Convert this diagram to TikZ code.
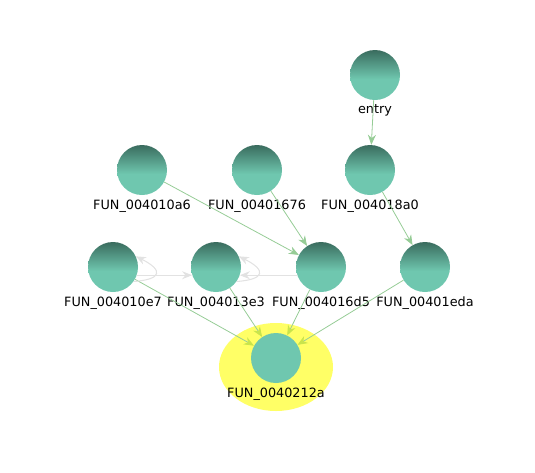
\documentclass[tikz,border=0pt]{standalone}
\usepackage{fontspec}
\setsansfont{DejaVu Sans}
\usetikzlibrary{arrows.meta,positioning,shapes.geometric}
\tikzset{>=Stealth}
\definecolor{edgegreen}{HTML}{96CC96}
\definecolor{tipyellow}{HTML}{C8E44C}
\definecolor{loopgray}{HTML}{E2E2E2}
\definecolor{nodetop}{HTML}{3A6C5E}
\definecolor{nodebot}{HTML}{6FC7AF}
\definecolor{hilite}{HTML}{FFFF66}
\pgfdeclareverticalshading{fnshade}{100bp}{color(0bp)=(nodebot); color(46bp)=(nodebot); color(75bp)=(nodetop); color(100bp)=(nodetop)}

\begin{document}
\begin{tikzpicture}[x=0.75pt, y=-0.75pt,
    fn/.style={circle, minimum size=37.5pt, inner sep=0pt, shading=fnshade,
      label={[lbl, label distance=2pt]below:#1}},
    target/.style={circle, minimum size=37.5pt, inner sep=0pt, fill=nodebot, label={[lbl, label distance=2pt]below:#1}},
    lbl/.style={font=\sffamily\fontsize{9.6}{11}\selectfont, inner sep=1pt},
    flow/.style={draw=edgegreen, line width=0.6pt, -{Stealth[length=7.5pt, width=6pt]}},
    sink/.style={draw=edgegreen, line width=0.6pt, -{Stealth[length=7.5pt, width=6pt, color=tipyellow]}},
    back/.style={draw=loopgray, line width=0.8pt, -{Stealth[length=7.5pt, width=6pt]}}
  ]
    \useasboundingbox (0,0) rectangle (535,472);
    % highlighted sink
    \fill[hilite] (276,367) ellipse [x radius=57, y radius=44];
    % functions
    \node[fn=entry] (entry) at (375,75) {};
    \node[fn=FUN\_004018a0] (f18a0) at (370,170) {};
    \node[fn=FUN\_004010a6] (f10a6) at (142,170) {};
    \node[fn=FUN\_00401676] (f1676) at (257,170) {};
    \node[fn=FUN\_004010e7] (f10e7) at (113,267) {};
    \node[fn=FUN\_004013e3] (f13e3) at (216,267) {};
    \node[fn=FUN\_004016d5] (f16d5) at (321,267) {};
    \node[fn=FUN\_00401eda] (f1eda) at (425,267) {};
    \node[target=FUN\_0040212a] (f212a) at (276,358) {};
    % calls
    \path[flow] (entry) -- (f18a0);
    \path[flow] (f18a0) -- (f1eda);
    \path[flow] (f10a6) -- (f16d5);
    \path[flow] (f1676) -- (f16d5);
    \path[sink] (f10e7) -- (f212a);
    \path[sink] (f13e3) -- (f212a);
    \path[sink] (f16d5) -- (f212a);
    \path[sink] (f1eda) -- (f212a);
    % back edges and loops
    \path[back] (f10e7.-19) -- (f13e3.199);
    \path[back] (f16d5.199) -- (f13e3.-19);
    \path[back] (f10e7.-35) .. controls +(28,-2) and +(28,14) .. (f10e7.25);
    \path[back] (f13e3.-35) .. controls +(28,-2) and +(28,14) .. (f13e3.25);
  \end{tikzpicture}
\end{document}
